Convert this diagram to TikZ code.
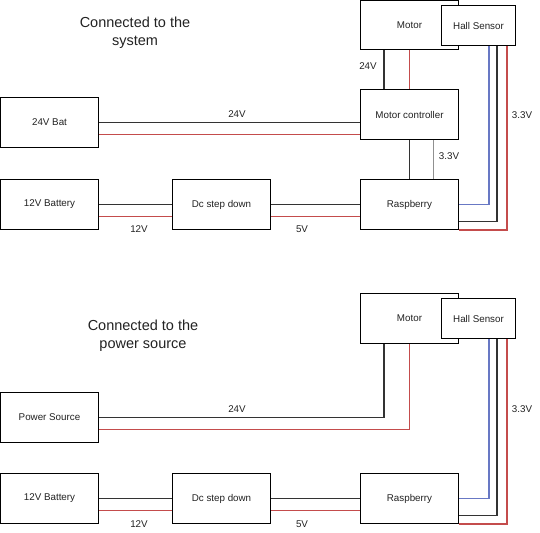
\documentclass[tikz,border=0pt]{standalone}
\usepackage{fontspec}
\setmainfont{Liberation Sans}
\definecolor{wirered}{HTML}{C44C4C}
\definecolor{wireblue}{HTML}{6878C4}
\definecolor{wiregray}{HTML}{909090}
\definecolor{wireblack}{HTML}{333333}
\definecolor{txt}{HTML}{222222}
\begin{document}
\begin{tikzpicture}[x=1pt,y=-1pt,
  box/.style={draw=black,line width=1pt,fill=white,minimum width=98pt,minimum height=50pt,inner sep=0pt,text=txt,font=\fontsize{9.8}{12}\selectfont},
  hall/.style={box,minimum width=74pt,minimum height=40pt},
  lab/.style={inner sep=0pt,text=txt,font=\fontsize{9.8}{12}\selectfont},
  ttl/.style={inner sep=0pt,align=center,text=txt,font=\fontsize{14.5}{18}\selectfont},
  blackwire/.style={draw=wireblack,line width=1.3pt},
  redwire/.style={draw=wirered,line width=1.2pt},
  bluewire/.style={draw=wireblue,line width=1.1pt},
  graywire/.style={draw=wiregray,line width=1pt}]
\useasboundingbox (0,0) rectangle (540,532);
% ---------- top system ----------
\node[ttl] (t1) at (135,33) {Connected to the\\system};
\node[box,minimum height=49pt] (motorA) at (409.5,25) {Motor};
\node[box] (ctrl) at (409.5,114.5) {Motor controller};
\node[box] (raspA) at (409.5,204.5) {Raspberry};
\node[box] (bat24) at (49.5,122.5) {24V Bat};
\node[box] (bat12A) at (49.5,204.5) {12V Battery};
\node[box] (dcA) at (221.5,204.5) {Dc step down};
% wires
\draw[blackwire] ([xshift=24pt]motorA.south west) -- ([xshift=24pt]ctrl.north west);
\draw[redwire] (motorA.south) -- (ctrl.north);
\draw[blackwire] (ctrl.south) -- (raspA.north);
\draw[graywire] ([xshift=73pt]ctrl.south west) -- ([xshift=73pt]raspA.north west);
\draw[blackwire] (bat24.east) -- (bat24.east -| ctrl.west);
\draw[redwire] ([yshift=-12pt]bat24.east) -- ([yshift=-12pt]bat24.east -| ctrl.west);
\draw[blackwire] (bat12A.east) -- (dcA.west);
\draw[redwire] ([yshift=-12pt]bat12A.east) -- ([yshift=-12pt]dcA.west);
\draw[blackwire] (dcA.east) -- (raspA.west);
\draw[redwire] ([yshift=-12pt]dcA.east) -- ([yshift=-12pt]raspA.west);
\node[hall] (hallA) at (478.5,25.5) {Hall Sensor};
\draw[bluewire] ([xshift=48pt]hallA.south west) |- (raspA.east);
\draw[blackwire] ([xshift=56pt]hallA.south west) |- ([yshift=-17pt]raspA.east);
\draw[redwire] ([xshift=66pt]hallA.south west) |- (raspA.south east);
% labels
\node[lab] (l1) at (368,66) {24V};
\node[lab] (l2) at (449,156) {3.3V};
\node[lab] (l3) at (522,115) {3.3V};
\node[lab] (l4) at (237,114) {24V};
\node[lab] (l5) at (139,229) {12V};
\node[lab] (l6) at (302,229) {5V};
% ---------- bottom system ----------
\node[ttl] (t2) at (143,336) {Connected to the\\power source};
\node[box] (motorB) at (409.5,318.5) {Motor};
\node[box] (power) at (49.5,417.5) {Power Source};
\node[box] (raspB) at (409.5,498.5) {Raspberry};
\node[box] (bat12B) at (49.5,498.5) {12V Battery};
\node[box] (dcB) at (221.5,498.5) {Dc step down};
\draw[blackwire] ([xshift=24pt]motorB.south west) |- (power.east);
\draw[redwire] (motorB.south) |- ([yshift=-12pt]power.east);
\draw[blackwire] (bat12B.east) -- (dcB.west);
\draw[redwire] ([yshift=-12pt]bat12B.east) -- ([yshift=-12pt]dcB.west);
\draw[blackwire] (dcB.east) -- (raspB.west);
\draw[redwire] ([yshift=-12pt]dcB.east) -- ([yshift=-12pt]raspB.west);
\node[hall] (hallB) at (478.5,318.5) {Hall Sensor};
\draw[bluewire] ([xshift=48pt]hallB.south west) |- (raspB.east);
\draw[blackwire] ([xshift=56pt]hallB.south west) |- ([yshift=-17pt]raspB.east);
\draw[redwire] ([xshift=66pt]hallB.south west) |- (raspB.south east);
\node[lab] (m1) at (237,409) {24V};
\node[lab] (m2) at (522,409) {3.3V};
\node[lab] (m3) at (139,524) {12V};
\node[lab] (m4) at (302,524) {5V};
\end{tikzpicture}
\end{document}
